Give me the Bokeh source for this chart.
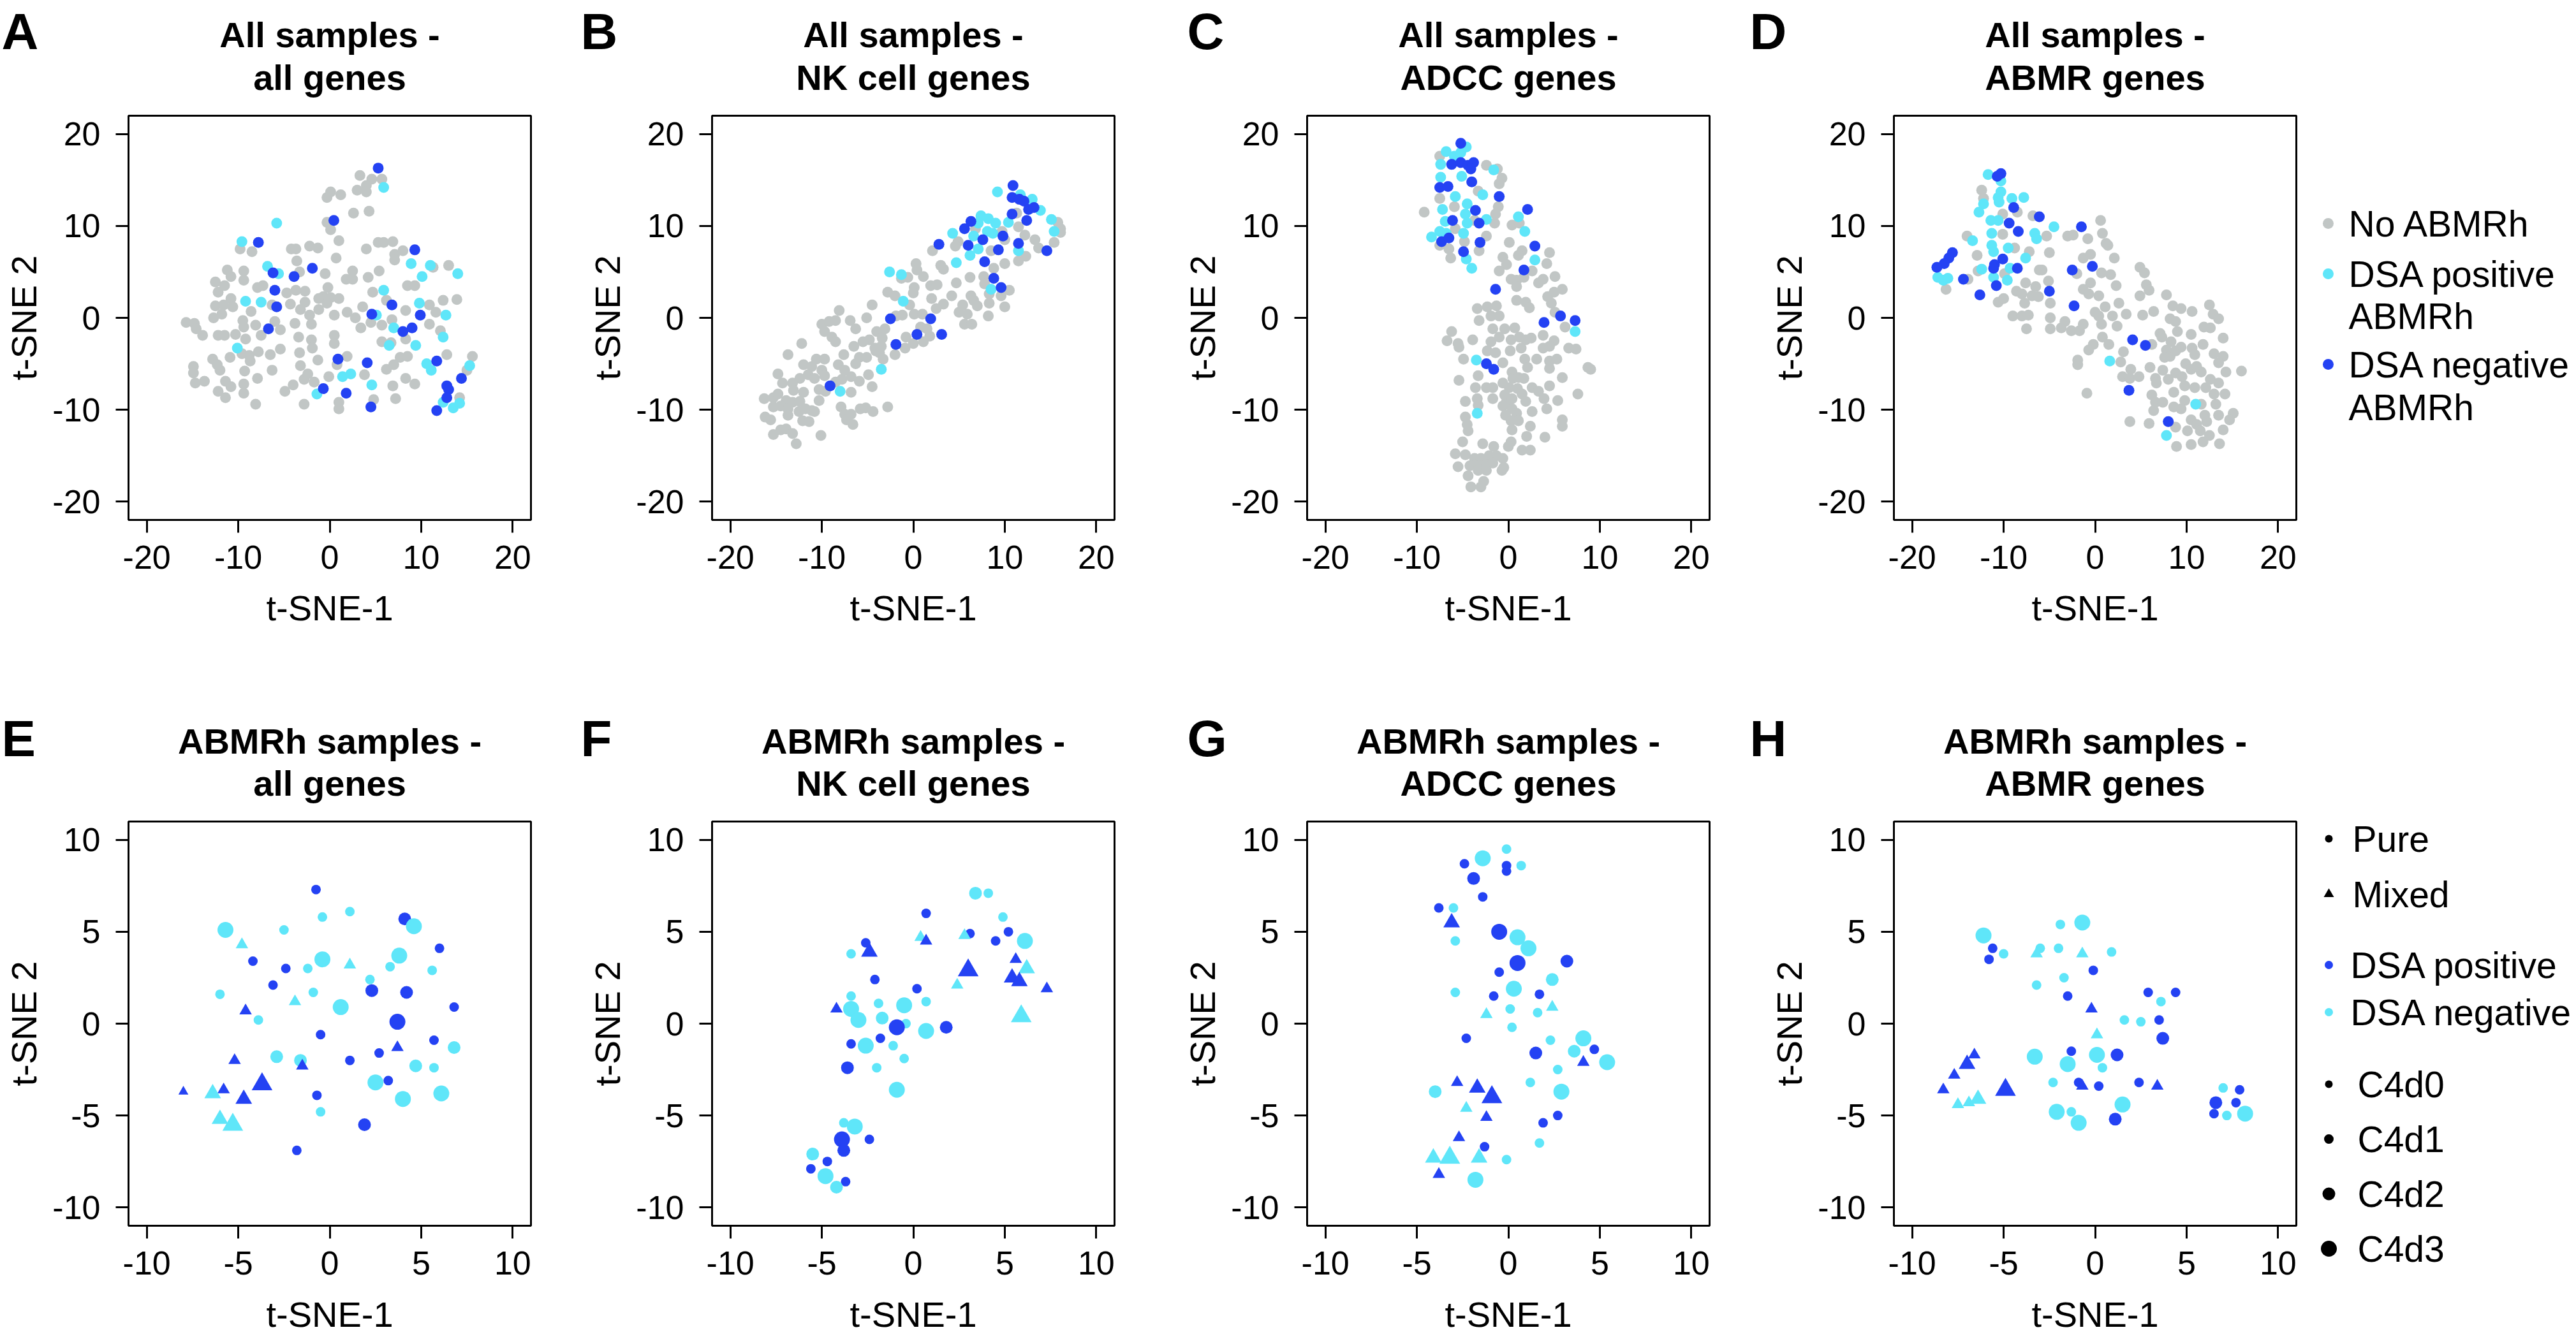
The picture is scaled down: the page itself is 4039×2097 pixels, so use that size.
import math
from bokeh.plotting import figure
from bokeh.layouts import row, column
from bokeh.models import Range1d, FixedTicker, ColumnDataSource
from bokeh.embed import file_html
from bokeh.resources import INLINE
from bokeh.core.properties import value

# ---------------- DATA ----------------
TOP_TICKS = [-20, -10, 0, 10, 20]
BOT_TICKS = [-10, -5, 0, 5, 10]
TOP_LETTERS = ["A", "B", "C", "D"]
BOT_LETTERS = ["E", "F", "G", "H"]
TOP_TITLE_1 = ["All samples -"] * 4
TOP_TITLE_2 = ["all genes", "NK cell genes", "ADCC genes", "ABMR genes"]
BOT_TITLE_1 = ["ABMRh samples -"] * 4
BOT_TITLE_2 = ["all genes", "NK cell genes", "ADCC genes", "ABMR genes"]
X_LABEL = "t-SNE-1"
Y_LABEL = "t-SNE 2"
LEGEND_TOP = ["No ABMRh", "DSA positive", "ABMRh", "DSA negative", "ABMRh"]
LEGEND_BOT = ["Pure", "Mixed", "DSA positive", "DSA negative", "C4d0", "C4d1", "C4d2", "C4d3"]

# Panel A (all samples, all genes)
A_gray_x = [3.3,4.6,5.7,4.0,3.0,4.0,0.1,-0.3,1.2,2.6,4.3,-0.3,0.1,1.0,-9.8,-8.5,-4.2,-3.7,-2.2,-1.3,0.7,4.0,5.3,5.9,6.9,7.1,8.0,7.1,-3.6,-11.2,-10.8,-9.4,-9.4,-3.3,-0.5,2.5,1.8,2.5,4.2,5.4,11.3,13.0,-12.5,-11.5,-12.2,-7.9,-7.3,-4.7,-3.7,-2.7,-0.2,-0.7,0.1,-1.2,1.0,4.7,8.5,9.3,-12.5,-11.6,-10.8,-10.6,-8.6,-6.3,-4.3,-2.7,-3.2,-1.2,-0.3,3.6,6.2,8.3,10.9,11.6,12.4,13.9,-12.7,-11.8,-15.7,-14.8,-14.6,-13.9,-9.5,-9.4,-8.1,-6.0,-5.4,-3.8,-2.2,-2.0,0.5,1.9,2.8,3.4,4.5,5.7,6.8,10.9,12.1,-12.2,-11.5,-10.3,-9.2,-7.5,-3.4,-2.0,0.5,0.5,5.7,6.7,8.3,-9.6,-8.8,-7.8,-6.5,-5.4,-3.3,-1.9,1.9,7.7,8.5,12.8,15.6,-12.8,-12.3,-12.0,-10.9,-8.7,-14.9,-14.9,-9.3,-6.3,-3.2,-1.3,0.8,3.8,6.2,7.0,15.0,-14.7,-13.7,-11.4,-10.8,-9.4,-7.9,-4.0,-2.8,-2.4,-1.7,-0.1,6.9,8.3,9.3,-12.2,-11.4,-9.4,-8.1,-4.9,-2.8,1.0,1.0,4.8,7.2,14.2]
A_gray_y = [15.5,15.1,15.1,14.4,13.9,13.7,13.7,13.1,13.4,11.4,11.6,10.4,9.6,8.4,7.5,7.2,7.5,7.5,7.8,7.6,6.5,7.5,8.2,8.2,8.3,6.9,7.3,6.3,6.2,5.2,4.5,5.1,4.1,5.0,4.8,5.1,4.2,4.2,4.4,5.1,5.5,5.7,3.9,3.5,2.8,3.3,3.5,2.7,3.0,2.9,3.3,2.3,2.2,2.1,2.1,2.8,3.5,3.5,1.3,1.4,2.1,1.2,0.7,1.4,1.5,1.7,0.9,0.9,1.6,1.2,1.9,0.8,1.4,0.6,1.9,2.0,0.0,0.4,-0.5,-0.6,-1.2,-1.9,-0.3,-1.0,-0.8,-0.4,-1.3,-0.6,0.3,-0.7,0.3,0.6,0.0,-1.1,-0.5,-0.8,-0.2,-0.7,-1.4,-1.9,-1.9,-1.8,-2.3,-1.9,-2.1,-2.4,-1.9,-2.8,-2.6,-2.7,-2.3,-3.9,-4.1,-3.7,-4.0,-3.4,-3.8,-3.3,-4.2,-4.3,-4.2,-4.0,-4.2,-4.5,-5.1,-5.7,-4.3,-4.7,-5.3,-6.0,-5.8,-5.7,-5.2,-4.6,-5.1,-6.2,-5.6,-5.1,-5.7,-7.1,-6.9,-6.9,-7.5,-7.2,-6.6,-7.3,-6.7,-6.1,-7.0,-6.4,-7.4,-6.6,-7.2,-8.0,-8.7,-8.2,-9.4,-8.0,-9.4,-9.2,-9.9,-8.9,-8.8,-8.7]
A_pos_x = [5.9,-5.8,-9.6,-6.8,-5.6,8.9,11.0,10.1,14.0,5.9,-9.2,-7.5,9.8,12.7,5.1,7.0,12.4,9.4,6.5,-10.1,10.6,11.1,15.3,1.4,2.3,4.6,-1.4,12.4,13.5,14.2]
A_pos_y = [14.2,10.3,8.3,5.6,4.8,5.9,5.7,4.5,4.8,3.0,1.8,1.7,1.6,0.3,0.3,-1.1,-2.1,-3.0,-3.0,-3.3,-5.0,-5.7,-5.2,-6.4,-6.1,-7.3,-8.3,-9.2,-9.8,-9.3]
A_neg_x = [5.3,0.45,-7.8,9.3,-1.9,-6.2,-3.9,-6.0,-5.8,6.8,9.9,4.6,9.0,8.0,-6.7,0.9,4.1,11.7,14.4,12.8,13.0,12.8,-0.7,1.8,4.5,11.7]
A_neg_y = [16.3,10.6,8.2,7.4,5.4,4.9,4.5,3.0,1.2,1.4,0.3,0.4,-1.1,-1.5,-1.2,-4.5,-4.9,-4.7,-6.6,-7.4,-7.8,-8.7,-7.7,-8.2,-9.7,-10.1]

# Panel B (all samples, NK cell genes)
B_gray_x = [11.3,11.5,12.2,9.7,10.0,13.3,13.7,15.4,15.8,16.1,16.1,4.9,4.6,8.5,2.1,6.8,11.5,12.3,10.0,8.8,0.3,0.4,1.1,3.0,3.3,-1.3,-0.6,6.2,4.7,7.7,7.8,0.1,0.0,1.9,2.6,-2.8,-2.0,4.2,6.3,6.6,8.3,8.3,9.6,10.5,2.0,3.3,2.5,-0.4,-4.5,5.4,7.0,10.0,-8.1,-5.1,-6.9,-1.9,-1.2,0.1,1.0,5.0,5.9,8.2,5.6,6.4,-10.0,-9.2,-8.5,-9.7,-6.3,-4.0,-3.1,1.5,0.8,-8.9,-8.5,-3.4,-4.8,-5.5,-0.8,1.1,1.8,0.0,-12.2,-6.5,-4.2,-3.5,-0.9,-13.7,-7.6,-10.6,-9.7,-5.9,-5.1,-4.1,-3.7,-3.3,-2.0,-12.0,-11.1,-8.2,-7.5,-6.3,-10.0,-9.7,-14.8,-12.4,-11.5,-10.8,-6.8,-5.9,-4.9,-14.3,-13.2,-8.5,-7.8,-10.3,-9.6,-6.8,-4.5,-13.1,-12.0,-16.3,-15.3,-14.8,-13.9,-13.2,-12.4,-15.3,-14.5,-13.7,-12.5,-11.8,-11.1,-10.8,-10.3,-7.9,-7.5,-6.8,-5.8,-5.2,-4.4,-2.8,-16.2,-15.6,-13.7,-12.1,-11.4,-7.3,-6.6,-15.3,-14.5,-13.9,-13.2,-10.1,-12.8]
B_gray_y = [11.4,9.9,9.0,9.4,8.5,8.5,7.6,8.2,10.4,9.7,9.3,8.3,7.8,7.3,7.3,9.7,6.2,6.7,5.9,5.4,5.9,5.2,4.5,5.7,5.3,4.3,4.4,4.4,3.8,4.5,3.7,3.3,2.7,3.5,3.6,2.8,2.4,2.4,2.4,1.9,2.6,1.6,2.4,3.0,2.1,1.5,1.0,1.4,1.4,1.4,1.3,1.2,0.8,0.0,-0.3,0.2,0.3,0.4,0.4,0.6,0.4,0.2,-0.7,-0.7,-0.7,-0.4,-0.3,-1.5,-1.2,-1.5,-1.2,-1.2,-1.0,-2.1,-2.6,-2.2,-2.4,-2.6,-2.1,-2.6,-2.0,-2.8,-2.8,-3.1,-3.3,-3.1,-3.3,-4.0,-4.0,-4.5,-4.5,-4.3,-4.3,-3.6,-3.8,-4.5,-4.0,-5.1,-5.3,-5.1,-5.7,-5.0,-5.7,-6.3,-6.1,-6.6,-6.2,-6.6,-6.4,-6.9,-6.2,-7.1,-7.1,-7.0,-6.7,-7.8,-8.0,-8.1,-7.5,-7.9,-8.1,-8.8,-8.7,-8.3,-9.0,-9.2,-9.1,-9.7,-9.6,-9.9,-10.2,-9.9,-10.1,-10.2,-9.0,-9.7,-10.5,-10.5,-9.9,-9.8,-10.2,-9.7,-10.8,-11.1,-10.6,-11.2,-11.3,-11.1,-11.6,-12.7,-12.2,-12.1,-12.6,-12.8,-13.7]
B_pos_x = [9.2,11.7,13.0,13.9,15.1,15.4,7.4,8.2,7.1,9.0,4.3,6.6,8.1,8.7,10.4,7.1,6.2,11.5,4.7,-2.6,-1.3,-1.1,8.5,-3.5,-8.0]
B_pos_y = [13.7,13.4,12.9,11.7,10.7,9.4,11.1,10.8,10.3,10.3,9.2,8.9,9.4,9.2,10.4,7.5,6.8,7.3,6.0,5.0,4.7,1.8,3.1,-5.6,-8.0]
B_neg_x = [10.9,10.8,11.6,12.1,12.6,13.2,10.8,12.4,6.3,5.6,7.6,9.8,6.0,2.8,11.5,9.3,14.6,7.8,8.8,9.6,-2.5,1.9,0.4,3.1,-1.9,-9.1]
B_neg_y = [14.4,13.1,12.9,12.7,11.8,12.0,11.3,10.6,10.5,9.7,8.5,8.9,7.9,8.0,8.1,7.4,7.3,6.1,4.3,3.3,-0.1,-0.1,-1.8,-1.8,-2.9,-7.4]

# Panel C (all samples, ADCC genes)
C_gray_x = [-7.5,-2.4,-1.2,-0.7,-1.0,-3.3,-7.5,-5.9,-9.2,-1.1,-1.4,-3.7,-5.8,-1.5,0.4,1.2,-2.4,-4.8,-7.5,-6.5,-6.3,-3.2,0.1,1.5,1.1,4.5,-0.6,-0.2,4.2,-1.0,2.6,0.3,0.9,1.7,3.3,3.8,5.1,0.9,4.3,5.0,5.9,0.9,1.9,2.3,4.7,5.1,-3.4,-2.3,-1.3,-1.9,-1.0,-3.2,6.2,-6.2,-1.7,-0.4,0.7,-6.7,-5.5,-5.4,-3.9,-1.9,-1.0,0.3,1.2,1.9,2.5,3.8,5.0,4.5,3.8,6.6,7.4,-2.3,-1.4,0.2,1.4,-4.9,-0.6,1.8,2.1,3.1,4.5,5.3,4.5,8.7,9.0,-5.4,-3.3,0.4,0.5,1.1,1.7,5.9,-3.6,-2.4,-1.7,-0.6,0.1,1.0,2.6,3.3,4.5,7.6,-4.7,-3.4,-3.3,-1.7,-0.4,-0.2,0.4,1.5,1.9,3.9,4.2,5.4,-0.6,0.4,0.9,2.6,-4.7,-4.5,-4.4,-0.3,0.3,1.1,5.9,5.9,0.4,2.4,2.0,4.0,-5.0,-2.8,-1.6,0.3,0.0,1.5,2.4,-5.8,-4.7,-3.7,-3.0,-2.1,-1.3,-0.6,-4.2,-3.2,-2.4,-1.7,-5.5,-3.3,-2.4,-0.7,-0.5,-4.4,-2.7,-4.1,-3.0]
C_gray_y = [17.6,16.6,16.2,15.2,14.6,13.8,13.0,12.1,11.5,12.1,11.3,10.6,9.7,10.3,10.1,10.3,8.9,8.3,7.9,7.5,6.5,7.3,8.2,7.3,6.8,7.1,6.6,5.8,5.9,5.1,5.1,4.2,4.1,4.4,3.8,4.2,4.5,3.4,2.3,2.8,3.1,1.9,1.7,1.1,1.6,0.6,1.0,1.2,1.3,0.2,0.2,-0.3,-1.0,-1.5,-1.2,-1.2,-1.1,-2.5,-2.8,-3.2,-2.4,-2.6,-2.1,-2.4,-2.1,-2.4,-2.2,-1.9,-2.5,-3.1,-3.3,-3.3,-3.4,-3.6,-3.8,-3.6,-3.3,-4.5,-4.9,-4.5,-5.4,-4.5,-4.7,-4.5,-5.5,-5.4,-5.6,-6.8,-6.3,-5.9,-6.6,-6.5,-6.6,-6.5,-7.6,-7.6,-7.6,-7.1,-7.6,-7.7,-7.6,-8.0,-7.4,-8.3,-9.1,-8.8,-9.5,-8.8,-8.4,-9.1,-8.8,-8.3,-9.1,-8.8,-9.9,-9.0,-9.6,-9.9,-10.4,-10.2,-10.8,-11.6,-12.3,-10.6,-11.2,-11.2,-11.1,-11.8,-12.2,-11.8,-12.9,-13.0,-13.5,-13.7,-14.0,-13.5,-14.0,-14.4,-14.4,-14.8,-14.9,-15.3,-15.3,-15.0,-15.0,-15.3,-16.1,-16.1,-16.0,-15.8,-16.2,-16.6,-16.6,-16.6,-16.3,-17.2,-17.8,-18.4,-18.4]
C_pos_x = [-6.8,-5.9,-5.2,-4.6,-7.4,-1.6,-7.4,-5.1,-5.8,-2.8,-7.2,-4.5,-4.7,-4.5,-6.9,-7.5,-6.8,-8.4,-2.4,-4.9,1.1,1.8,-4.6,-4.0,2.9,7.3,-3.5,-3.4]
C_pos_y = [18.1,17.6,18.0,18.6,16.7,16.1,15.3,15.4,13.2,13.4,11.8,12.4,11.3,10.3,10.5,9.4,9.2,8.8,10.7,9.2,11.0,9.4,6.4,5.4,6.3,-1.5,-4.6,-10.4]
C_neg_x = [-5.2,-6.2,-5.2,-4.4,-3.8,-4.1,-4.0,-7.5,-6.6,-1.0,-3.6,-3.2,-6.1,2.1,-7.3,-6.5,-3.1,-4.9,2.9,1.7,-1.4,3.9,5.7,7.3,-2.4,-1.6]
C_neg_y = [19.0,16.7,16.9,16.6,16.9,16.2,14.8,14.2,14.3,13.2,11.7,10.3,10.6,11.8,8.3,8.7,8.2,7.2,7.8,5.2,3.1,-0.5,0.2,-0.3,-5.0,-5.6]

# Panel D (all samples, ABMR genes)
D_gray_x = [-12.4,-12.2,-10.1,-8.5,-6.8,-14.0,-10.1,-5.3,0.6,0.8,-3.0,-2.4,-0.8,1.2,1.4,-8.8,-7.2,-5.0,2.1,-12.9,-1.3,-0.5,-6.1,-5.8,-12.8,-9.9,0.7,1.7,4.9,5.4,-13.9,-2.0,-5.1,-7.6,-6.5,-0.5,2.3,5.6,5.9,-16.3,-8.6,-8.0,-6.9,-6.2,-1.3,-0.7,0.4,4.9,7.8,-10.6,-10.0,-7.7,-4.9,2.6,12.5,1.1,8.5,9.4,10.6,0.0,0.4,0.7,1.9,3.4,5.2,6.4,-9.0,-8.0,-7.3,-4.9,-3.3,12.9,13.5,8.2,8.8,-3.7,-2.6,-1.7,-1.3,-7.5,-4.9,2.4,9.0,11.9,12.6,7.1,7.3,10.5,0.8,1.5,14.0,8.3,6.2,-0.2,-0.7,9.4,10.6,11.8,3.1,7.8,8.2,8.8,7.6,10.9,13.0,14.0,-1.9,-1.9,2.8,13.5,9.9,6.0,7.4,10.5,11.1,11.6,8.8,9.5,14.3,16.0,3.9,3.0,3.8,4.8,6.6,6.7,8.0,9.8,10.9,12.1,12.6,13.5,8.6,-0.9,6.2,13.0,14.2,9.8,6.6,7.4,11.6,13.2,8.6,9.4,6.4,12.0,13.5,15.1,14.7,3.8,5.9,10.5,11.1,12.2,8.8,10.1,11.5,12.5,14.0,11.8,8.9,10.5,13.6]
D_gray_y = [13.9,13.0,11.3,11.5,11.1,8.9,9.1,8.9,10.6,9.2,8.9,9.0,8.6,8.1,7.9,7.6,7.2,7.1,6.5,6.8,6.5,6.9,5.2,5.2,5.1,4.8,4.9,4.7,5.5,4.9,4.2,4.8,4.0,3.8,3.4,3.8,3.5,3.6,3.0,3.1,2.9,2.6,2.4,2.3,3.1,2.6,2.4,2.4,2.5,1.7,2.1,1.6,1.6,1.6,1.4,1.2,1.3,1.0,0.7,0.6,0.2,-0.7,0.2,0.4,0.3,0.7,0.2,0.2,0.3,0.0,-0.4,0.4,-0.1,-0.1,-0.4,-1.1,-1.4,-1.4,-0.7,-1.2,-1.2,-0.9,-1.5,-1.0,-1.1,-1.7,-2.1,-1.8,-2.1,-2.9,-2.2,-2.6,-2.9,-2.9,-3.5,-3.2,-3.3,-2.9,-3.7,-3.5,-4.2,-3.6,-4.3,-4.0,-3.9,-4.2,-4.6,-5.1,-4.8,-4.9,-5.0,-5.4,-5.7,-5.6,-5.3,-5.9,-6.0,-6.4,-5.9,-5.8,-5.6,-6.4,-6.6,-6.4,-6.6,-7.1,-6.7,-7.4,-7.6,-7.6,-6.7,-7.1,-8.1,-8.2,-8.4,-8.3,-8.3,-9.0,-9.2,-9.2,-9.4,-9.4,-9.7,-9.9,-10.1,-10.6,-10.6,-10.4,-11.1,-11.3,-11.5,-11.1,-11.6,-11.3,-11.9,-12.3,-12.3,-12.8,-12.2,-13.5,-14.0,-13.8,-13.7]
D_pos_x = [-11.7,-10.3,-10.3,-10.6,-10.5,-9.1,-7.8,-12.2,-12.7,-11.4,-10.6,-11.3,-13.4,-11.3,-11.1,-9.5,-6.6,-6.4,-4.5,-7.6,-12.4,-9.3,-17.2,-16.6,-16.1,-11.1,-9.6,1.6,11.0,7.8]
D_pos_y = [15.6,14.9,13.7,13.1,12.6,13.0,13.1,12.4,11.5,10.6,10.6,9.2,8.4,7.9,7.2,7.6,9.2,8.6,9.9,6.5,5.3,5.4,4.4,4.1,4.3,4.4,4.1,-4.7,-9.4,-12.8]
D_neg_x = [-10.3,-10.7,-8.9,-6.1,-1.5,-9.4,-8.4,-15.6,-16.0,-16.5,-17.3,-10.1,-11.0,-11.1,-8.5,-2.5,-0.3,-14.4,-10.8,-5.0,-12.6,-2.3,4.1,5.5,3.7,8.0]
D_neg_y = [15.7,15.4,12.0,11.0,9.9,10.3,9.4,7.1,6.5,5.9,5.5,6.4,5.8,5.4,5.4,5.2,5.6,4.2,3.5,2.9,2.5,1.3,-2.4,-3.0,-7.9,-11.3]

# Bottom row: DSA status (P = positive, N = negative), histology (C = pure, M = mixed), C4d score
E_x = [-0.75,1.1,-0.4,-2.5,-5.7,4.1,4.6,-4.8,6.0,-4.2,-0.4,3.8,-2.4,-1.2,1.1,3.3,5.6,-3.1,2.2,-6.0,-0.9,2.3,4.2,-1.9,0.6,-4.6,-3.9,3.7,6.8,-0.5,5.7,3.7,6.8,-2.9,2.7,-5.2,-1.6,-1.5,1.1,4.7,5.7,2.5,3.2,-3.7,-8.0,-5.8,-6.4,-4.7,-0.7,6.1,4.0,-0.5,-6.0,-5.3,1.9,-1.8]
E_y = [7.3,6.1,5.8,5.1,5.1,5.7,5.3,4.3,4.1,3.4,3.5,3.7,3.0,3.0,3.2,3.1,2.9,2.1,2.4,1.6,1.7,1.8,1.7,1.2,0.9,0.7,0.2,0.1,0.9,-0.6,-0.9,-1.3,-1.3,-1.8,-1.6,-2.0,-2.0,-2.3,-2.0,-2.3,-2.4,-3.2,-3.1,-3.3,-3.7,-3.6,-3.8,-4.1,-3.9,-3.8,-4.1,-4.8,-5.2,-5.5,-5.5,-6.9]
E_dsa = list("PNNNNPNNPP" "NNPNNNNPNN" "NPPNNPNPPP" "PPNNPPNPPN" "NNPPPPNPPN" "NNNNPP")
E_hist = list("CCCCCCCMCC" "CCCCMCCCCC" "CCCMCMCCCC" "CMCCCMCMCC" "CCCMMMMMCC" "CCMMCC")
E_c4d = [1,1,1,1,3,2,3,1,1,1, 3,3,1,1,1,1,1,1,1,1, 1,2,2,1,3,1,1,3,1,1, 1,1,2,2,1,1,2,1,1,2, 1,3,1,3,0,1,2,2,1,3, 3,1,2,3,2,1]

F_x = [3.4,4.1,0.7,4.9,3.1,2.8,5.2,4.5,6.1,0.4,0.7,-2.6,-3.4,-2.4,5.6,3.0,6.2,-2.1,5.4,5.8,2.4,7.3,0.2,-3.4,-1.9,0.7,-3.4,-4.2,-0.5,5.9,-3.0,-1.7,-0.4,-0.9,0.7,1.8,-1.8,-3.4,-2.6,-1.1,-0.5,-3.6,-2.0,-0.9,-3.8,-3.2,-3.9,-2.4,-3.8,-5.5,-4.7,-5.6,-4.8,-3.7,-4.2]
F_y = [7.1,7.1,6.0,5.8,4.9,4.8,5.0,4.5,4.5,4.7,4.5,4.4,3.8,3.9,3.5,2.9,3.0,2.4,2.5,2.3,2.1,1.9,1.9,1.5,1.1,1.2,0.8,0.8,1.0,0.4,0.2,0.3,0.0,-0.2,-0.4,-0.2,-0.8,-1.1,-1.2,-1.2,-1.9,-2.4,-2.4,-3.6,-5.4,-5.6,-6.3,-6.3,-6.9,-7.1,-7.5,-7.9,-8.3,-8.6,-8.9]
F_dsa = list("NNPNPNPPNN" "PPNPPPNPPP" "NPPNNNNPNN" "NNNPNPPPNN" "NPNNNNPPPN" "PPNPN")
F_hist = list("CCCCCMCCCM" "MCCMMMMCMM" "MMCCCCCMCM" "CCCCCCCCCC" "CCCCCCCCCC" "CCCCC")
F_c4d = [2,1,1,1,1,1,1,1,3,1, 1,1,1,2,1,3,2,1,2,2, 1,1,1,1,1,1,3,1,3,3, 3,2,1,3,3,2,1,1,3,1, 1,2,1,3,1,3,3,1,2,2, 1,1,3,1,2]

G_x = [-0.1,-1.4,-2.4,-0.1,0.7,-0.1,-1.9,-1.4,-3.8,-3.0,-3.1,-2.9,-0.5,0.5,1.1,0.5,3.2,-0.5,2.4,-2.9,-0.8,0.3,1.7,2.4,-1.2,0.1,1.6,0.2,-2.3,2.3,4.1,1.5,3.6,4.7,5.4,4.1,2.7,-2.8,1.2,-4.0,-1.7,-0.9,2.9,-2.3,-1.2,2.7,1.9,-2.7,-1.3,1.7,-4.1,-3.2,-1.6,-0.1,-3.8,-1.8]
G_y = [9.5,9.0,8.7,8.6,8.6,8.3,7.9,6.9,6.3,6.3,5.5,4.5,5.0,4.7,4.1,3.3,3.4,2.8,2.4,1.7,1.5,1.9,1.6,0.9,0.5,0.8,0.6,-0.2,-0.8,-0.9,-0.8,-1.6,-1.5,-1.4,-2.1,-2.1,-2.5,-3.2,-3.2,-3.7,-3.5,-4.0,-3.7,-4.6,-5.1,-5.0,-5.4,-6.2,-6.7,-6.5,-7.3,-7.3,-7.3,-7.4,-8.2,-8.5]
G_dsa = list("NNPPNPPPPN" "PNPNNPPPNN" "PNPNNNNNPN" "NPNPNPNPNN" "PPNNPPPPPN" "NNNNPN")
G_hist = list("CCCCCCCCCC" "MCCCCCCCCC" "CCCMMCCCCC" "CCCCCMCMCC" "MMCMMCCMCC" "MMMCMC")
G_c4d = [1,3,1,1,1,1,2,1,1,1, 2,1,3,3,3,3,2,1,2,1, 1,3,1,1,1,1,1,1,1,1, 3,2,2,1,3,1,1,1,1,2, 2,3,3,1,1,1,1,1,1,1, 2,3,2,1,1,3]

H_x = [-6.1,-0.7,-1.9,-5.6,-5.8,-5.0,-3.0,-3.2,-2.0,-0.7,0.9,-0.1,-1.7,-3.2,-1.5,2.9,4.4,3.6,-0.2,1.6,2.5,3.5,0.1,3.7,-1.3,1.2,-3.3,0.1,-1.5,0.4,-6.6,-7.0,-7.7,-8.3,-2.3,-0.9,-0.7,0.2,2.4,3.4,-4.9,7.0,7.9,-7.5,-6.9,-6.4,6.6,7.7,1.5,-2.1,-1.3,-0.9,1.1,6.5,7.2,8.2]
H_y = [4.8,5.5,5.4,4.1,3.5,3.8,4.1,3.8,4.1,3.8,3.9,2.9,2.5,2.1,1.5,1.7,1.7,1.2,0.8,0.2,0.1,0.2,-0.6,-0.8,-1.5,-1.7,-1.8,-1.7,-2.2,-2.4,-1.7,-2.2,-2.8,-3.6,-3.2,-3.2,-3.4,-3.4,-3.2,-3.4,-3.6,-3.5,-3.6,-4.4,-4.3,-4.1,-4.3,-4.3,-4.4,-4.8,-4.8,-5.4,-5.2,-4.9,-5.0,-4.9]
H_dsa = list("NNNPPNNNNN" "NPNNPPPNPN" "NPNPPPNNNN" "PPPPNPPPPP" "PNPNNNPPNN" "NNPPNN")
H_hist = list("CCCCCCCMCM" "CCCCCCCCMC" "CCMCCCCCCC" "MMMMCCMCCM" "MCCMMMCCCC" "CCCCCC")
H_c4d = [3,3,1,1,1,1,1,1,1,1, 1,1,1,1,1,1,1,1,1,1, 1,1,1,2,1,2,3,3,3,1, 1,2,1,1,1,1,1,1,1,1, 3,1,1,1,1,2,2,1,3,3, 1,3,2,1,1,3]

# ---------------- STYLE / LAYOUT (page pixels) ----------------
GRAY, CYAN, BLUE = "#C1C6C5", "#5FE6F9", "#2442F3"
FONT = "Liberation Sans"
FW, FH = 631, 634
LEFT = 201
RIGHTS = [83, 101, 88, 20]
T0, B0 = 24, 105
BLOCK_W = sum(LEFT + FW + r for r in RIGHTS)          # 3620
LEG_W = 4039 - BLOCK_W                                  # 419
ROW_H = T0 + FH + B0
HDR_H, MID_H = 157, 344
FTR_H = 2095 - (HDR_H + ROW_H + MID_H + ROW_H)
TOTAL_H = HDR_H + ROW_H + MID_H + ROW_H + FTR_H
MID_TOP = HDR_H + ROW_H
FTR_TOP = MID_TOP + MID_H + ROW_H
C4D_SIZE = {0: 12, 1: 15, 2: 20, 3: 25}

frame_left = []
acc = 0
for r in RIGHTS:
    frame_left.append(acc + LEFT)
    acc += LEFT + FW + r
frame_mid = [f + FW / 2 for f in frame_left]
LETTER_X = [2, 910, 1861, 2743]


def trim(x, y):
    n = min(len(x), len(y))
    return x[:n], y[:n]


def blank(w, h):
    q = figure(width=w, height=h, x_range=Range1d(0, w), y_range=Range1d(0, h),
               output_backend="svg", toolbar_location=None, min_border=0, title=None,
               x_axis_location=None, y_axis_location=None)
    q.grid.visible = False
    q.outline_line_color = None
    return q


def put_text(q, xs, ys, texts, size, bold=False, align="center"):
    q.text(xs, ys, text=texts, text_font=value(FONT), text_font_size=value(size),
           text_font_style="bold" if bold else "normal", text_align=align,
           text_baseline="middle", text_color="black")


def header(top, h, letters, t1, t2, y_letter, y_t1, y_t2, xlab_y=None):
    # y values are the page y of each text's vertical middle
    q = blank(BLOCK_W, h)
    conv = lambda v: h - (v - top)
    put_text(q, LETTER_X, [conv(y_letter)] * 4, letters, "80px", bold=True, align="left")
    put_text(q, frame_mid, [conv(y_t1)] * 4, t1, "56px", bold=True)
    put_text(q, frame_mid, [conv(y_t2)] * 4, t2, "56px", bold=True)
    if xlab_y is not None:
        put_text(q, frame_mid, [conv(xlab_y)] * 4, [X_LABEL] * 4, "56px")
    return q


def panel(lim, ticks, right):
    p = figure(width=LEFT + FW + right, height=ROW_H,
               x_range=Range1d(-lim, lim), y_range=Range1d(-lim, lim),
               output_backend="svg", toolbar_location=None, title=None,
               min_border_left=LEFT, min_border_right=right,
               min_border_top=T0, min_border_bottom=B0)
    p.grid.visible = False
    p.outline_line_color = "black"
    p.outline_line_width = 3
    p.outline_line_alpha = 1.0
    for ax in (p.xaxis[0], p.yaxis[0]):
        ax.ticker = FixedTicker(ticks=ticks)
        ax.major_label_overrides = {t: str(t) for t in ticks}
        ax.axis_line_color = None
        ax.major_tick_out = 20
        ax.major_tick_in = 0
        ax.major_tick_line_width = 3
        ax.major_tick_line_color = "black"
        ax.minor_tick_line_color = None
        ax.major_label_text_font = FONT
        ax.major_label_text_font_size = "52px"
        ax.major_label_text_color = "black"
    p.xaxis.major_label_standoff = 20
    p.yaxis.major_label_standoff = 24
    p.yaxis.axis_label = Y_LABEL
    p.yaxis.axis_label_text_font = FONT
    p.yaxis.axis_label_text_font_size = "56px"
    p.yaxis.axis_label_text_font_style = "normal"
    p.yaxis.axis_label_text_color = "black"
    p.yaxis.axis_label_standoff = 10
    return p


top_data = [
    (A_gray_x, A_gray_y, A_pos_x, A_pos_y, A_neg_x, A_neg_y),
    (B_gray_x, B_gray_y, B_pos_x, B_pos_y, B_neg_x, B_neg_y),
    (C_gray_x, C_gray_y, C_pos_x, C_pos_y, C_neg_x, C_neg_y),
    (D_gray_x, D_gray_y, D_pos_x, D_pos_y, D_neg_x, D_neg_y),
]
top_figs = []
for i, d in enumerate(top_data):
    p = panel(22, TOP_TICKS, RIGHTS[i])
    for (xs, ys), col in (((d[0], d[1]), GRAY), ((d[2], d[3]), CYAN), ((d[4], d[5]), BLUE)):
        xs, ys = trim(xs, ys)
        p.scatter(xs, ys, size=17, color=col, line_color=None)
    top_figs.append(p)

bot_data = [(E_x, E_y, E_dsa, E_hist, E_c4d), (F_x, F_y, F_dsa, F_hist, F_c4d),
            (G_x, G_y, G_dsa, G_hist, G_c4d), (H_x, H_y, H_dsa, H_hist, H_c4d)]
bot_figs = []
for i, d in enumerate(bot_data):
    p = panel(11, BOT_TICKS, RIGHTS[i])
    n = min(len(v) for v in d)
    xs, ys, dsa, hist, c4d = (list(v[:n]) for v in d)
    src = ColumnDataSource(dict(
        x=xs, y=ys,
        color=[BLUE if s == "P" else CYAN for s in dsa],
        marker=["triangle" if h == "M" else "circle" for h in hist],
        size=[C4D_SIZE[c] * (1.3 if h == "M" else 1.0) for c, h in zip(c4d, hist)],
    ))
    p.scatter("x", "y", source=src, marker="marker", size="size", color="color", line_color=None)
    bot_figs.append(p)

# header / middle / footer strips (text middles given in page y)
hdr1 = header(0, HDR_H, TOP_LETTERS, TOP_TITLE_1, TOP_TITLE_2, 49, 54, 121)
mid = header(MID_TOP, MID_H, BOT_LETTERS, BOT_TITLE_1, BOT_TITLE_2, 1158, 1162, 1228, xlab_y=953)
ftr = blank(BLOCK_W, FTR_H)
put_text(ftr, frame_mid, [FTR_H - (2061 - FTR_TOP)] * 4, [X_LABEL] * 4, "56px")

# legend strip (page y of item middles)
leg = blank(LEG_W, TOTAL_H)
top_rows = [TOTAL_H - v for v in (350, 429, 495, 571, 638)]
leg.scatter([30, 30, 30], [top_rows[0], top_rows[1], top_rows[3]], size=17,
            color=[GRAY, CYAN, BLUE], line_color=None)
leg.text([62] * 5, top_rows, text=LEGEND_TOP, text_font=value(FONT), text_font_size=value("57px"),
         text_baseline="middle", text_align="left", text_color="black")
bot_rows = [TOTAL_H - v for v in (1315, 1402, 1513, 1587, 1700, 1786, 1872, 1958)]
leg.scatter([31] * 8, bot_rows,
            marker=["circle", "triangle", "circle", "circle", "circle", "circle", "circle", "circle"],
            size=[12, 16, 13, 13, C4D_SIZE[0], C4D_SIZE[1], C4D_SIZE[2], C4D_SIZE[3]],
            color=["black", "black", BLUE, CYAN, "black", "black", "black", "black"], line_color=None)
leg.text([68, 68, 65, 65, 76, 76, 76, 76], bot_rows, text=LEGEND_BOT, text_font=value(FONT),
         text_font_size=value("57px"), text_baseline="middle", text_align="left", text_color="black")

block = column(hdr1, row(*top_figs), mid, row(*bot_figs), ftr)
layout = row(block, leg)
open("out.html", "w").write(file_html(layout, INLINE))
